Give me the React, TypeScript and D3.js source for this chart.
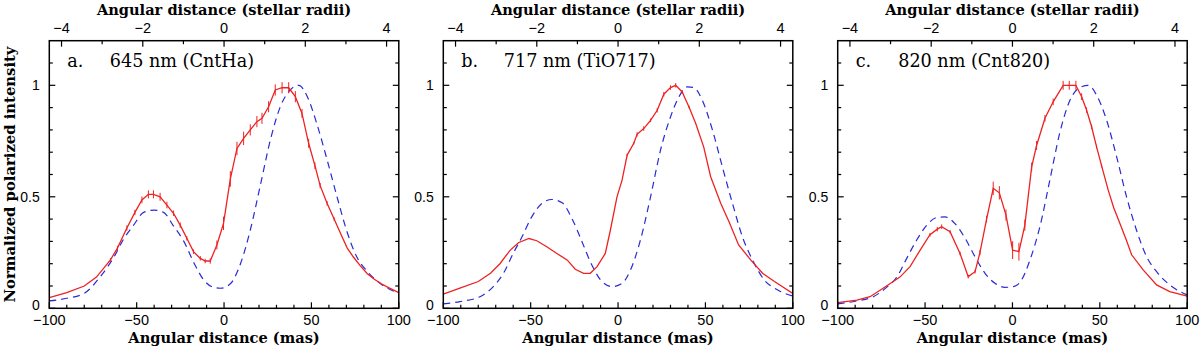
import { useEffect } from "react";
import * as d3 from "d3";

// chart size and panel frames
const W = 1200;
const H = 347;
const panelLeft = [49.3, 443.3, 837.7];
const panelW = 349.5;
const top = 40.7;
const bottom = 308.3;
const masPerRadius = 23.25;

const panelLetters = ["a.", "b.", "c."];
const panelNames = ["645 nm (CntHa)", "717 nm (TiO717)", "820 nm (Cnt820)"];

const xTicksMajor = [-100, -50, 0, 50, 100];
const yTicksMajor = [0, 0.5, 1];
const topTicksMajor = [-4, -2, 0, 2, 4];

// panel a. observed (red) with error bar half-lengths
const obsA_x = [-100, -90, -80, -73, -65, -61, -55.6, -51, -47, -43.3, -40.4, -36.6, -32.7, -28.9, -25.1, -21.3, -17.5, -13.6, -10.8, -7.9, -4.1, -0.3, 3.6, 7.4, 11.2, 15, 18.8, 21.7, 25.5, 29.3, 33.2, 37, 40.8, 44.6, 48.4, 52, 55, 59, 63, 67, 70.5, 74, 78, 82, 86, 90, 93, 100];
const obsA_y = [0.048, 0.07, 0.1, 0.14, 0.217, 0.27, 0.36, 0.43, 0.486, 0.511, 0.511, 0.5, 0.463, 0.426, 0.373, 0.314, 0.254, 0.224, 0.212, 0.212, 0.284, 0.381, 0.58, 0.717, 0.762, 0.8, 0.837, 0.852, 0.904, 0.979, 0.989, 0.989, 0.949, 0.874, 0.74, 0.64, 0.55, 0.47, 0.4, 0.33, 0.27, 0.23, 0.19, 0.155, 0.13, 0.11, 0.097, 0.07];
const obsA_e = [0, 0, 0, 0, 0.008, 0.01, 0.012, 0.012, 0.015, 0.018, 0.018, 0.018, 0.015, 0.012, 0.012, 0.01, 0.01, 0.01, 0.01, 0.012, 0.02, 0.03, 0.035, 0.03, 0.03, 0.025, 0.025, 0.025, 0.025, 0.025, 0.025, 0.025, 0.025, 0.02, 0.02, 0.015, 0.012, 0.01, 0.008, 0, 0, 0, 0, 0, 0, 0, 0, 0];

// panel a. model (blue dashed)
const modA_x = [-100, -90, -80, -71, -63, -57.5, -52, -46, -40, -34.6, -29, -23, -17, -11.6, -6, -2, 3.6, 9.4, 15, 21, 26.5, 32, 38, 42.8, 47.6, 53, 59, 65, 70.5, 76, 82, 89.6, 100];
const modA_y = [0.033, 0.045, 0.067, 0.14, 0.23, 0.31, 0.37, 0.43, 0.44, 0.43, 0.37, 0.3, 0.2, 0.127, 0.094, 0.09, 0.11, 0.2, 0.35, 0.56, 0.755, 0.9, 0.98, 1.0, 0.95, 0.83, 0.665, 0.49, 0.34, 0.23, 0.165, 0.11, 0.067];

// panel b. observed
const obsB_x = [-100, -90.5, -80, -73, -67.6, -61.8, -57, -51, -46.5, -40.8, -35, -29, -24.5, -19.7, -15.9, -12, -7.3, -4.4, -0.6, 2.3, 5.2, 9, 10.9, 14.7, 18.6, 22.4, 26.2, 30, 33, 36.7, 40.6, 44.4, 49, 53, 58.8, 63.5, 69, 76, 82.7, 89.5, 100];
const obsB_y = [0.064, 0.09, 0.12, 0.157, 0.2, 0.26, 0.294, 0.313, 0.303, 0.276, 0.246, 0.216, 0.175, 0.157, 0.157, 0.187, 0.246, 0.35, 0.5, 0.575, 0.687, 0.74, 0.78, 0.806, 0.843, 0.888, 0.96, 0.99, 1.0, 0.97, 0.903, 0.83, 0.724, 0.59, 0.47, 0.388, 0.284, 0.216, 0.157, 0.12, 0.067];
const obsB_e = [0, 0, 0, 0, 0, 0, 0, 0, 0, 0, 0, 0, 0, 0, 0, 0, 0, 0, 0, 0, 0.006, 0.006, 0.01, 0.01, 0.008, 0.01, 0.01, 0.01, 0.01, 0.008, 0.006, 0, 0, 0, 0, 0, 0, 0, 0, 0, 0];

// panel b. model
const modB_x = [-100, -90.5, -79, -71.4, -65.6, -60, -55, -49.4, -43.6, -37.9, -32, -26.4, -20.7, -15, -9.2, -3.4, 2.3, 7, 12.8, 18.6, 24.3, 30, 34.8, 39.6, 43.4, 48.2, 54, 59.7, 65.5, 71.2, 77, 83.7, 91.4, 100];
const modB_y = [0.02, 0.03, 0.052, 0.097, 0.157, 0.246, 0.32, 0.41, 0.47, 0.488, 0.473, 0.403, 0.3, 0.194, 0.12, 0.097, 0.112, 0.17, 0.306, 0.5, 0.709, 0.858, 0.948, 0.993, 0.99, 0.933, 0.8, 0.634, 0.47, 0.32, 0.216, 0.127, 0.082, 0.055];

// panel c. observed
const obsC_x = [-100, -89, -81.5, -74, -64.4, -58.6, -52.9, -47.2, -43, -40.5, -35.7, -30, -25.3, -21.4, -18.6, -14.8, -11, -7.5, -3.7, 0.1, 3.7, 7.1, 11, 13.8, 18.6, 23.3, 29, 32.5, 36.3, 39.6, 42.4, 45.3, 48.1, 51, 54.8, 58, 61.5, 65, 68.2, 74.8, 82.5, 90, 100];
const obsC_y = [0.025, 0.037, 0.052, 0.09, 0.14, 0.187, 0.26, 0.33, 0.355, 0.366, 0.343, 0.246, 0.142, 0.164, 0.25, 0.4, 0.538, 0.518, 0.418, 0.261, 0.254, 0.373, 0.634, 0.73, 0.852, 0.926, 1.0, 1.0, 1.0, 0.949, 0.889, 0.814, 0.725, 0.64, 0.53, 0.45, 0.38, 0.31, 0.24, 0.172, 0.105, 0.075, 0.055];
const obsC_e = [0, 0, 0, 0, 0, 0, 0, 0.008, 0.01, 0.01, 0.008, 0.008, 0.008, 0.008, 0.012, 0.015, 0.03, 0.03, 0.025, 0.04, 0.04, 0.025, 0.02, 0.02, 0.015, 0.015, 0.02, 0.02, 0.02, 0.015, 0.012, 0.01, 0.008, 0.008, 0, 0, 0, 0, 0, 0, 0, 0, 0];

// panel c. model
const modC_x = [-100, -89, -79.6, -72, -66, -60.5, -54.8, -49, -43.4, -38.6, -32.9, -27, -21.4, -15.7, -10, -4.3, 0.5, 5.2, 10, 15.7, 21.4, 27, 32.9, 38.6, 43.4, 48.2, 53.9, 59.6, 65.3, 71, 76.8, 82.5, 90, 100];
const modC_y = [0.02, 0.033, 0.052, 0.094, 0.142, 0.224, 0.306, 0.373, 0.407, 0.41, 0.38, 0.313, 0.231, 0.157, 0.112, 0.094, 0.097, 0.127, 0.216, 0.366, 0.575, 0.784, 0.933, 0.99, 1.0, 0.955, 0.843, 0.68, 0.5, 0.35, 0.231, 0.164, 0.105, 0.06];

const obsX = [obsA_x, obsB_x, obsC_x];
const obsY = [obsA_y, obsB_y, obsC_y];
const obsE = [obsA_e, obsB_e, obsC_e];
const modX = [modA_x, modB_x, modC_x];
const modY = [modA_y, modB_y, modC_y];

const serif = "'DejaVu Serif', serif";
const sans = "'Liberation Sans', Arial, sans-serif";

function Panel({ i }: { i: number }) {
  const left = panelLeft[i];
  const x = d3.scaleLinear().domain([-100, 100]).range([left, left + panelW]);
  const xr = d3
    .scaleLinear()
    .domain([-100 / masPerRadius, 100 / masPerRadius])
    .range([left, left + panelW]);
  const y = d3.scaleLinear().domain([0, 1.2]).range([bottom, top]);

  const obs = obsX[i].map((v, k) => ({ x: v, y: obsY[i][k], e: obsE[i][k] }));
  const mod = modX[i].map((v, k) => ({ x: v, y: modY[i][k] }));

  const obsLine = d3
    .line<{ x: number; y: number }>()
    .x((d) => x(d.x))
    .y((d) => y(d.y));
  const modLine = d3
    .line<{ x: number; y: number }>()
    .x((d) => x(d.x))
    .y((d) => y(d.y))
    .curve(d3.curveMonotoneX);

  const xMinor = d3.range(-90, 100, 10).filter((t) => t % 50 !== 0);
  const yMinor = d3.range(0.1, 1.2, 0.1).filter((t) => Math.abs(t - 0.5) > 0.01 && Math.abs(t - 1) > 0.01);
  const topMinor = [-3, -1, 1, 3];
  const maj = 6;
  const min = 3.5;

  return (
    <g>
      <defs>
        <clipPath id={`clip${i}`}>
          <rect x={left} y={top} width={panelW} height={bottom - top} />
        </clipPath>
      </defs>
      <g clipPath={`url(#clip${i})`}>
        <path d={modLine(mod) ?? ""} fill="none" stroke="#2a2ad6" strokeWidth={1.2} strokeDasharray="7,5" />
        <path d={obsLine(obs) ?? ""} fill="none" stroke="#ee2222" strokeWidth={1.3} />
        {obs
          .filter((d) => d.e > 0)
          .map((d, k) => (
            <line key={k} x1={x(d.x)} x2={x(d.x)} y1={y(d.y - d.e)} y2={y(d.y + d.e)} stroke="#ee2222" strokeWidth={1} />
          ))}
      </g>
      {/* frame */}
      <rect x={left} y={top} width={panelW} height={bottom - top} fill="none" stroke="#000" strokeWidth={1.5} />
      {/* bottom axis ticks */}
      {xTicksMajor.map((t) => (
        <line key={`xm${t}`} x1={x(t)} x2={x(t)} y1={bottom} y2={bottom - maj} stroke="#000" strokeWidth={1.2} />
      ))}
      {xMinor.map((t) => (
        <line key={`xn${t}`} x1={x(t)} x2={x(t)} y1={bottom} y2={bottom - min} stroke="#000" strokeWidth={1.2} />
      ))}
      {/* top axis ticks in stellar radii */}
      {topTicksMajor.map((t) => (
        <line key={`tm${t}`} x1={xr(t)} x2={xr(t)} y1={top} y2={top + maj} stroke="#000" strokeWidth={1.2} />
      ))}
      {topMinor.map((t) => (
        <line key={`tn${t}`} x1={xr(t)} x2={xr(t)} y1={top} y2={top + min} stroke="#000" strokeWidth={1.2} />
      ))}
      {/* left and right ticks */}
      {yTicksMajor.map((t) => (
        <g key={`ym${t}`}>
          <line x1={left} x2={left + maj} y1={y(t)} y2={y(t)} stroke="#000" strokeWidth={1.2} />
          <line x1={left + panelW} x2={left + panelW - maj} y1={y(t)} y2={y(t)} stroke="#000" strokeWidth={1.2} />
        </g>
      ))}
      {yMinor.map((t) => (
        <g key={`yn${t}`}>
          <line x1={left} x2={left + min} y1={y(t)} y2={y(t)} stroke="#000" strokeWidth={1.2} />
          <line x1={left + panelW} x2={left + panelW - min} y1={y(t)} y2={y(t)} stroke="#000" strokeWidth={1.2} />
        </g>
      ))}
      {/* tick labels */}
      {xTicksMajor.map((t) => (
        <text key={`xl${t}`} x={x(t)} y={324.5} textAnchor="middle" fontFamily={sans} fontSize={14.5}>
          {t < 0 ? `\u2212${-t}` : t}
        </text>
      ))}
      {topTicksMajor.map((t) => (
        <text key={`tl${t}`} x={xr(t)} y={32.5} textAnchor="middle" fontFamily={sans} fontSize={14.5}>
          {t < 0 ? `\u2212${-t}` : t}
        </text>
      ))}
      {yTicksMajor.map((t) => (
        <text
          key={`yl${t}`}
          x={left - 9.5}
          y={t === 0 ? y(t) + 2 : y(t) + 5}
          textAnchor="end"
          fontFamily={sans}
          fontSize={14}
        >
          {t}
        </text>
      ))}
      {/* axis titles */}
      <text x={x(0)} y={15} textAnchor="middle" fontFamily={serif} fontWeight="bold" fontSize={14.6}>
        Angular distance (stellar radii)
      </text>
      <text x={x(0)} y={343} textAnchor="middle" fontFamily={serif} fontWeight="bold" fontSize={14.6}>
        Angular distance (mas)
      </text>
      {/* panel label */}
      <text x={left + 18} y={67} fontFamily={serif} fontSize={17.6}>
        {panelLetters[i]}
      </text>
      <text x={left + 60.5} y={67} fontFamily={serif} fontSize={17.6}>
        {panelNames[i]}
      </text>
    </g>
  );
}

export default function App() {
  useEffect(() => {
    document.body.style.margin = "0";
  }, []);
  return (
    <svg width={W} height={H} style={{ display: "block", background: "#fff" }}>
      {[0, 1, 2].map((i) => (
        <Panel key={i} i={i} />
      ))}
      <text
        transform={`translate(14.5,${(top + bottom) / 2}) rotate(-90)`}
        textAnchor="middle"
        fontFamily={serif}
        fontWeight="bold"
        fontSize={14.8}
      >
        Normalized polarized intensity
      </text>
    </svg>
  );
}
